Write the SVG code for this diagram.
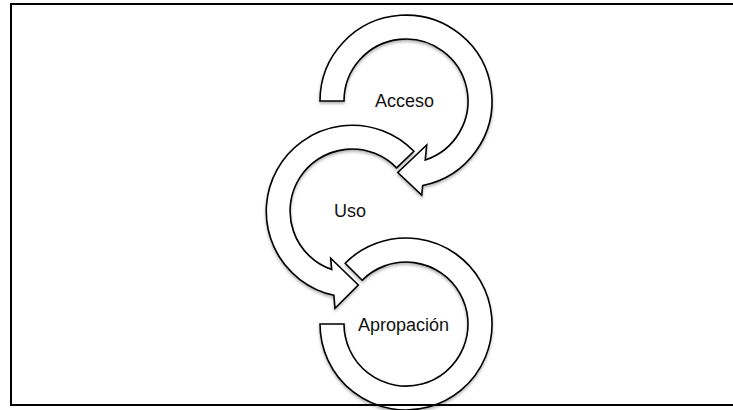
<svg xmlns="http://www.w3.org/2000/svg" width="733" height="410" viewBox="0 0 733 410">
  <defs>
    <filter id="soft" x="-10%" y="-10%" width="120%" height="125%">
      <feDropShadow dx="0" dy="2" stdDeviation="1.5" flood-color="#000" flood-opacity="0.3"/>
    </filter>
  </defs>
  <style>
    .band { fill: #fff; stroke: #000; stroke-width: 1.6; stroke-linejoin: miter; filter: url(#soft); }
    .label { font-family: "Liberation Sans", Arial, sans-serif; font-size: 18px; fill: #111; text-anchor: middle; }
    .frame { fill: none; stroke: #000; stroke-width: 2; }
  </style>

  <rect width="733" height="410" fill="#fff"/>

  <!-- circular arrows: each band runs from a square tail to an arrowhead -->
  <g id="connectors">
    <!-- Acceso -> Uso -->
    <g id="acceso">
      <path class="band" d="M 320,101 A 86 86 0 1 1 422.7,185.5 L 421.7,195 L 397.8,172.5 L 426.7,145 L 425.2,160 A 62 62 0 1 0 344,101 Z"/>
      <text class="label" x="404.5" y="107">Acceso</text>
    </g>
    <!-- Uso -> Apropación -->
    <g id="uso">
      <path class="band" d="M 413.9,151.3 A 86 86 0 1 0 333.9,295.3 L 335,308.3 L 358.3,285 L 330.7,258.3 L 331.7,269.6 A 62 62 0 1 1 396.6,167.9 Z"/>
      <text class="label" x="350" y="217">Uso</text>
    </g>
    <!-- Apropación: open ring with no head -->
    <g id="apropacion">
      <path class="band" d="M 320,324 A 86 86 0 1 0 345.2,263.2 L 362.2,280.2 A 62 62 0 1 1 344,324 Z"/>
      <text class="label" x="403.5" y="331">Apropación</text>
    </g>
  </g>

  <!-- outer frame, right edge runs past the canvas -->
  <rect class="frame" x="11" y="4" width="740" height="401"/>
</svg>
